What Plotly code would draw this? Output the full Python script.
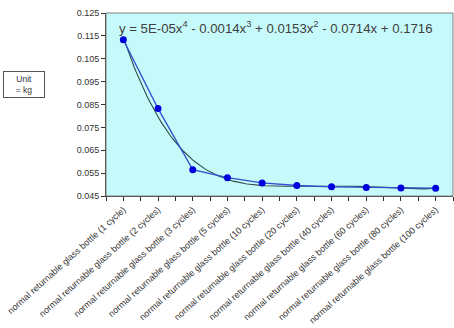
import numpy as np
import plotly.graph_objects as go

categories = [
    "normal returnable glass bottle (1 cycle)",
    "normal returnable glass bottle (2 cycles)",
    "normal returnable glass bottle (3 cycles)",
    "normal returnable glass bottle (5 cycles)",
    "normal returnable glass bottle (10 cycles)",
    "normal returnable glass bottle (20 cycles)",
    "normal returnable glass bottle (40 cycles)",
    "normal returnable glass bottle (60 cycles)",
    "normal returnable glass bottle (80 cycles)",
    "normal returnable glass bottle (100 cycles)",
]
values = [0.1133, 0.0832, 0.0565, 0.0530, 0.0507, 0.0496, 0.0490, 0.0487, 0.0485, 0.0484]
y_ticks = [0.045, 0.055, 0.065, 0.075, 0.085, 0.095, 0.105, 0.115, 0.125]
equation = "y = 5E-05x<sup>4</sup> - 0.0014x<sup>3</sup> + 0.0153x<sup>2</sup> - 0.0714x + 0.1716"

idx = np.arange(len(categories))
# polynomial (order 4) trendline fitted to the data, x = 1..n
xs = idx + 1
coef = np.polyfit(xs, values, 4)
xf = np.linspace(1, len(categories), 200)
yf = np.polyval(coef, xf)

fig = go.Figure()
fig.add_trace(go.Scatter(x=xf - 1, y=yf, mode="lines",
                         line=dict(color="#2E4A4A", width=1.1), hoverinfo="skip"))
fig.add_trace(go.Scatter(x=idx, y=values, mode="lines+markers",
                         line=dict(color="#2F4FCF", width=1.3),
                         marker=dict(color="#0000DD", size=7)))

fig.update_layout(
    width=454, height=328,
    margin=dict(l=106, r=1, t=13, b=132),
    paper_bgcolor="white",
    plot_bgcolor="#C6FAFA",
    showlegend=False,
    font=dict(family="Arial, Liberation Sans, sans-serif", size=9, color="#333333"),
    xaxis=dict(
        range=[-0.5, len(categories) - 0.5],
        tickvals=list(idx), ticktext=categories,
        tickangle=-42, ticks="outside", ticklen=4, tickcolor="#333333",
        minor=dict(dtick=0.5, tick0=-0.5, ticks="outside", ticklen=4, tickcolor="#333333"),
        showline=True, linecolor="#333333", linewidth=1,
        showgrid=False, zeroline=False, mirror=False,
        tickfont=dict(size=9, color="#333333"),
    ),
    yaxis=dict(
        range=[0.045, 0.125],
        tickvals=y_ticks, ticktext=[f"{v:.3f}" for v in y_ticks],
        ticks="outside", ticklen=4, tickcolor="#333333",
        showline=True, linecolor="#333333", linewidth=1,
        showgrid=False, zeroline=False,
        tickfont=dict(size=9, color="#333333"),
    ),
    shapes=[dict(type="rect", xref="paper", yref="paper", x0=0, y0=0, x1=1, y1=1,
                 line=dict(color="#808080", width=1), fillcolor="rgba(0,0,0,0)", layer="above")],
    annotations=[
        dict(text=equation, xref="paper", yref="paper", x=0.033, y=0.923,
             xanchor="left", yanchor="middle", showarrow=False,
             font=dict(size=13.2, color="#404040")),
        dict(text="Unit<br>= kg", xref="paper", yref="paper", x=-0.2356, y=0.609,
             xanchor="center", yanchor="middle", showarrow=False,
             bordercolor="#555555", borderwidth=1, borderpad=2, bgcolor="white",
             width=36, align="center",
             font=dict(size=8.5, color="#333333")),
    ],
)

fig.write_html("out.html")
